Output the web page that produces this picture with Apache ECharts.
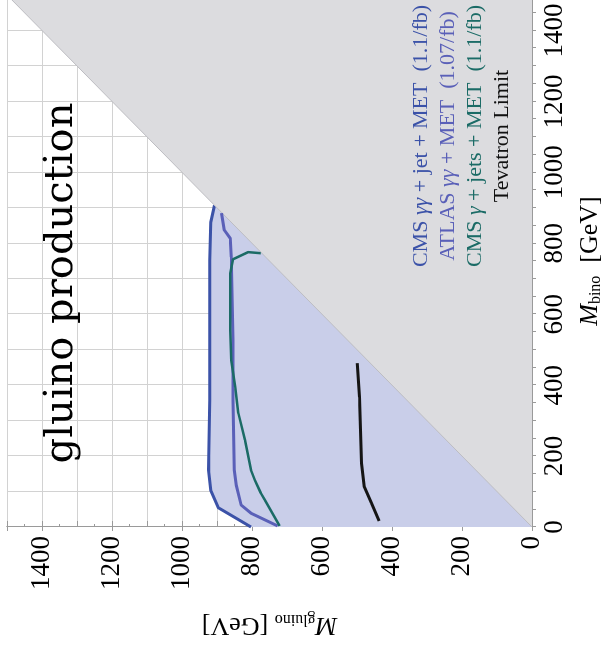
<!DOCTYPE html>
<html>
<head>
<meta charset="utf-8">
<script src="https://cdn.jsdelivr.net/npm/echarts@6/dist/echarts.min.js"></script>
<style>
  html, body { margin: 0; padding: 0; background: #fff; }
  #wrap { position: relative; width: 609px; height: 652px; overflow: hidden; }
  /* the plot is drawn upright, then turned a quarter turn to the left */
  #chart {
    position: absolute; left: 0; top: 0;
    width: 670px; height: 609px;
    transform-origin: 0 0;
    transform: translate(0, 657px) rotate(-90deg);
  }
</style>
</head>
<body>
<div id="wrap"><div id="chart"></div></div>
<script>
// [M_bino, M_gluino] in GeV
const cmsDiphotonJet = [[0, 803], [54, 896], [104, 918], [161, 924], [358, 921], [555, 921], [752, 921], [859, 918], [907, 907]];
const atlasDiphoton = [[3, 727], [39, 803], [62, 831], [118, 845], [161, 851], [358, 854], [527, 854], [761, 859], [814, 862], [837, 879], [885, 887]];
const cmsPhotonJets = [[3, 721], [76, 763], [96, 775], [132, 792], [161, 803], [245, 820], [321, 839], [394, 848], [470, 859], [555, 862], [715, 862], [755, 854], [775, 811], [772, 775]];
const tevatron = [[17, 437], [68, 459], [113, 479], [180, 487], [273, 490], [366, 493], [462, 499]];
const diagonal = [[0, 0], [1500, 1500]];

const legendLines = [
  { pre: "CMS ", g: "γγ", post: " + jet + MET  (1.1/fb)", color: "#3b52a8" },
  { pre: "ATLAS ", g: "γγ", post: " + MET  (1.07/fb)", color: "#5a60b8" },
  { pre: "CMS ", g: "γ", post: " + jets + MET  (1.1/fb)", color: "#1b6b66" },
  { pre: "Tevatron Limit", g: "", post: "", color: "#111" },
];

const serif = "Liberation Serif";
const axisGray = "#9a9a9a";

const mainAxis = (extra) => Object.assign({
  type: "value",
  min: 0,
  max: 1500,
  interval: 100,
  axisLine: { lineStyle: { color: axisGray, width: 1 } },
  axisTick: { inside: true, length: 6, lineStyle: { color: axisGray } },
  minorTick: { show: true, splitNumber: 2, length: 3, lineStyle: { color: axisGray } },
  splitLine: { show: true, lineStyle: { color: "#d2d2d2", width: 1 } },
  axisLabel: {
    formatter: (v) => (v % 200 === 0 ? String(v) : ""),
    fontFamily: serif,
    fontSize: 27,
    color: "#000",
    margin: 9,
  },
  nameLocation: "middle",
  nameTextStyle: {
    fontFamily: serif,
    fontSize: 26,
    color: "#000",
    rich: {
      i: { fontFamily: serif, fontStyle: "italic", fontSize: 26, color: "#000" },
      s: { fontFamily: serif, fontSize: 16, color: "#000", verticalAlign: "bottom", padding: [12, 0, 0, 0] },
    },
  },
}, extra);

const frameAxis = (extra) => Object.assign({
  type: "value",
  min: 0,
  max: 1500,
  axisLine: { lineStyle: { color: axisGray, width: 1 } },
  axisTick: { inside: true, length: 4, lineStyle: { color: axisGray } },
  axisLabel: { show: false },
  splitLine: { show: false },
}, extra);

const lineSeries = (name, data, color, width) => ({
  name,
  type: "line",
  data,
  showSymbol: false,
  smooth: false,
  lineStyle: { color, width },
  itemStyle: { color },
  z: 4,
});

const chart = echarts.init(document.getElementById("chart"));
chart.setOption({
  animation: false,
  grid: { left: 130, right: 8, top: 7, bottom: 71 },
  xAxis: [
    mainAxis({ position: "bottom", name: "{i|M}{s|bino}  [GeV]", nameGap: 44 }),
    frameAxis({ position: "top", interval: 50 }),
  ],
  yAxis: [
    mainAxis({ position: "left", name: "{i|M}{s|gluino} [GeV]", nameGap: 84 }),
    frameAxis({ position: "right", interval: 200 }),
  ],
  series: [
    // excluded region, filled down to the axis and then trimmed by the kinematic triangle
    Object.assign(lineSeries("CMS γγ+jet+MET", cmsDiphotonJet, "#3b52a8", 3), {
      areaStyle: { color: "#c9cee9", opacity: 1 },
      z: 2,
    }),
    {
      name: "kinematic",
      type: "line",
      data: diagonal,
      showSymbol: false,
      lineStyle: { color: "#bdbdc2", width: 1 },
      areaStyle: { color: "#dcdcdf", opacity: 1 },
      z: 3,
    },
    lineSeries("ATLAS γγ+MET", atlasDiphoton, "#5a60b8", 3),
    lineSeries("CMS γ+jets+MET", cmsPhotonJets, "#1b6b66", 2.5),
    lineSeries("Tevatron", tevatron, "#151515", 3),
  ],
  graphic: [
    {
      type: "text",
      x: 374,
      y: 62,
      z: 10,
      style: {
        text: "gluino production",
        font: "40px 'DejaVu Serif'",
        fill: "#000",
        align: "center",
        verticalAlign: "middle",
      },
    },
  ].concat(legendLines.map((l, i) => ({
    type: "text",
    x: 521,
    y: 421 + i * 27,
    z: 10,
    style: {
      text: l.g ? `{n|${l.pre}}{g|${l.g}}{n|${l.post}}` : `{n|${l.pre}}`,
      align: "center",
      verticalAlign: "middle",
      rich: {
        n: { fontFamily: serif, fontSize: 22, fill: l.color },
        g: { fontFamily: serif, fontStyle: "italic", fontSize: 22, fill: l.color },
      },
    },
  }))),
});
</script>
</body>
</html>
